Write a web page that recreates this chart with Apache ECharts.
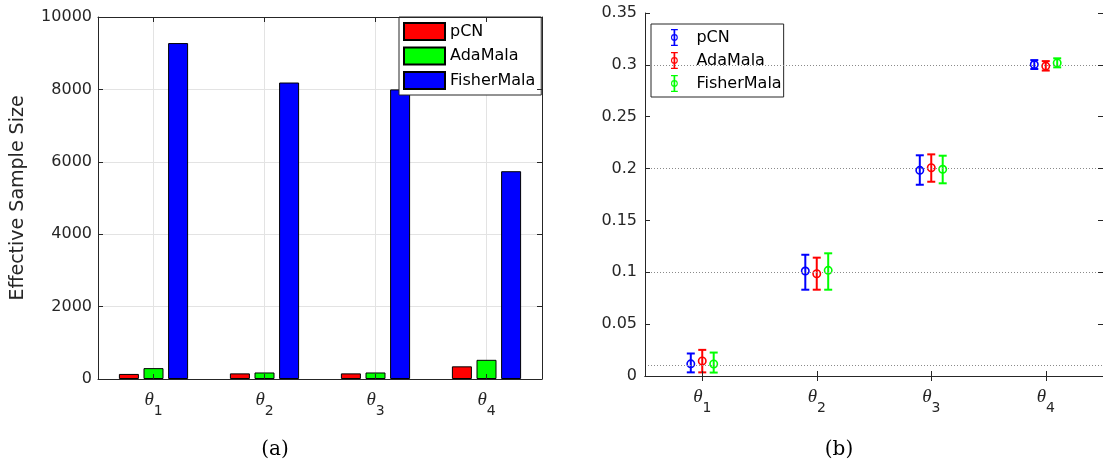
<!DOCTYPE html>
<html><head><meta charset="utf-8">
<script src="https://cdn.jsdelivr.net/npm/echarts@6/dist/echarts.min.js"></script>
<style>html,body{margin:0;padding:0;background:#fff}#c{width:1103px;height:464px}</style>
</head><body><div id="c"></div>
<script>
// ---------- data ----------
const methods = ['pCN', 'AdaMala', 'FisherMala'];
const thetaSubs = ['1', '2', '3', '4'];

// (a) effective sample size
const essPCN = [140, 155, 155, 350];
const essAda = [300, 180, 180, 530];
const essFisher = [9280, 8190, 8000, 5740];

// (b) posterior mean and interval
const meanPCN = [0.0117, 0.1012, 0.1983, 0.3003];
const lowPCN = [0.0035, 0.0832, 0.1844, 0.2960];
const highPCN = [0.0217, 0.1169, 0.2128, 0.3046];
const meanAda = [0.0145, 0.0986, 0.2008, 0.2988];
const lowAda = [0.0035, 0.0832, 0.1873, 0.2945];
const highAda = [0.0252, 0.1141, 0.2137, 0.3036];
const meanFisher = [0.0116, 0.1019, 0.1993, 0.3019];
const lowFisher = [0.0033, 0.0832, 0.1858, 0.2976];
const highFisher = [0.0226, 0.1183, 0.2124, 0.3063];
const trueValues = [0.01, 0.1, 0.2, 0.3];

const thetaPositions = [1, 2, 3, 4];
const ebOffsets = [-0.1, 0, 0.1];

// ---------- styles ----------
const barColors = ['#ff0000', '#00ff00', '#0000ff'];
const ebColors = ['#0000ff', '#ff0000', '#00ff00'];
const AX = '#262626';
const GRIDC = '#e3e3e3';
const SANS = 'DejaVu Sans';
const thetaRich = {
  t: { fontFamily: 'Liberation Serif', fontStyle: 'italic', fontSize: 19, color: AX },
  s: { fontFamily: SANS, fontSize: 14, color: AX, padding: [22, 0, 0, 0] }
};
const thetaFmt = v => '{t|θ}{s|' + v + '}';
const ebIcon = 'path://M2,0H18V3H2Z M2,37H18V40H2Z M8,0H12V40H8Z M2,20A8,8,0,1,1,18,20A8,8,0,1,1,2,20Z M4.5,20A5.5,5.5,0,1,0,15.5,20A5.5,5.5,0,1,0,4.5,20Z';

const essSeries = [essPCN, essAda, essFisher];
const ebMeans = [meanPCN, meanAda, meanFisher];
const ebLows = [lowPCN, lowAda, lowFisher];
const ebHighs = [highPCN, highAda, highFisher];

function renderEB(params, api) {
  const x = api.value(0), m = api.value(1), lo = api.value(2), hi = api.value(3);
  const pm = api.coord([x, m]), pl = api.coord([x, lo]), ph = api.coord([x, hi]);
  const color = api.visual('color');
  const w = 4;
  const ls = { stroke: color, lineWidth: 2, fill: 'none' };
  return {
    type: 'group', children: [
      { type: 'line', shape: { x1: pl[0], y1: pl[1], x2: ph[0], y2: ph[1] }, style: ls },
      { type: 'line', shape: { x1: ph[0] - w, y1: ph[1], x2: ph[0] + w, y2: ph[1] }, style: ls },
      { type: 'line', shape: { x1: pl[0] - w, y1: pl[1], x2: pl[0] + w, y2: pl[1] }, style: ls },
      { type: 'circle', shape: { cx: pm[0], cy: pm[1], r: 3.7 }, style: { stroke: color, lineWidth: 1.6, fill: 'none' } }
    ]
  };
}

const series = [];
methods.forEach((name, s) => {
  series.push({
    type: 'bar', name: name, xAxisIndex: 0, yAxisIndex: 0,
    data: essSeries[s], barWidth: 20, barGap: '23%',
    itemStyle: { color: barColors[s], borderColor: '#000', borderWidth: 1 },
    animation: false
  });
});
methods.forEach((name, s) => {
  const ser = {
    type: 'custom', name: 'b:' + name, xAxisIndex: 3, yAxisIndex: 2,
    renderItem: renderEB,
    itemStyle: { color: ebColors[s] },
    encode: { x: 0, y: [1, 2, 3] },
    data: thetaPositions.map((p, i) => [p + ebOffsets[s], ebMeans[s][i], ebLows[s][i], ebHighs[s][i]]),
    animation: false, z: 3
  };
  if (s === 0) {
    ser.markLine = {
      silent: true, symbol: ['none', 'none'], animation: false,
      label: { show: false },
      lineStyle: { type: [1, 2], color: '#8a8a8a', width: 1 },
      data: trueValues.map(v => ({ yAxis: v }))
    };
  }
  series.push(ser);
});

const tickIn = { show: true, inside: true, length: 5, lineStyle: { color: AX } };
const axLine = { show: true, lineStyle: { color: AX, width: 1 } };

const option = {
  backgroundColor: '#fff',
  animation: false,
  title: [
    { text: '(a)', left: 270, top: 435, textAlign: 'center',
      textStyle: { fontFamily: 'DejaVu Serif', fontSize: 20, fontWeight: 'normal', color: '#000' } },
    { text: '(b)', left: 834, top: 435, textAlign: 'center',
      textStyle: { fontFamily: 'DejaVu Serif', fontSize: 20, fontWeight: 'normal', color: '#000' } }
  ],
  grid: [
    { left: 98, top: 17, width: 444, height: 362 },
    { left: 645, top: 13, width: 461, height: 363 }
  ],
  legend: [
    { left: 399, top: 17, orient: 'vertical', itemWidth: 41, itemHeight: 17, itemGap: 5.5,
      padding: [5, 6, 5, 4], borderColor: AX, borderWidth: 1, backgroundColor: '#fff',
      icon: 'rect', selectedMode: false,
      textStyle: { fontFamily: SANS, fontSize: 16, color: '#000' },
      data: methods },
    { left: 651, top: 24, orient: 'vertical', itemWidth: 34, itemHeight: 17, itemGap: 6,
      padding: [5, 2, 5, 20], borderColor: AX, borderWidth: 1, backgroundColor: '#fff',
      icon: ebIcon, selectedMode: false,
      formatter: n => n.slice(2),
      textStyle: { fontFamily: SANS, fontSize: 16, color: '#000' },
      data: methods.map(n => 'b:' + n) }
  ],
  xAxis: [
    { // 0: categories of (a)
      type: 'category', gridIndex: 0, position: 'bottom', data: thetaSubs, z: 5,
      axisLine: axLine, axisTick: Object.assign({ alignWithLabel: true }, tickIn),
      axisLabel: { formatter: thetaFmt, rich: thetaRich, margin: 3 },
      splitLine: { show: false }
    },
    { // 1: vertical grid lines of (a)
      type: 'value', gridIndex: 0, min: 0.5, max: 4.5, interval: 1, z: 0,
      axisLine: { show: false },
      axisTick: { show: false, customValues: thetaPositions },
      axisLabel: { show: false, customValues: thetaPositions },
      splitLine: { show: true, lineStyle: { color: GRIDC, width: 1 } }
    },
    { // 2: top border of (a)
      type: 'category', gridIndex: 0, position: 'top', data: thetaSubs, z: 5,
      axisLine: axLine, axisTick: Object.assign({ alignWithLabel: true }, tickIn),
      axisLabel: { show: false }, splitLine: { show: false }
    },
    { // 3: x of (b)
      type: 'value', gridIndex: 1, position: 'bottom', min: 0.5, max: 4.5, interval: 1, z: 5,
      axisLine: axLine,
      axisTick: Object.assign({ customValues: thetaPositions }, tickIn),
      axisLabel: { customValues: thetaPositions, formatter: thetaFmt, rich: thetaRich, margin: 3 },
      splitLine: { show: false }
    },
    { // 4: top border of (b)
      type: 'value', gridIndex: 1, position: 'top', min: 0.5, max: 4.5, interval: 1, z: 5,
      axisLine: axLine,
      axisTick: Object.assign({ customValues: thetaPositions }, tickIn),
      axisLabel: { show: false, customValues: thetaPositions },
      splitLine: { show: false }
    }
  ],
  yAxis: [
    { // 0
      type: 'value', gridIndex: 0, min: 0, max: 10000, interval: 2000, position: 'left',
      axisLine: axLine, axisTick: tickIn,
      axisLabel: { fontFamily: SANS, fontSize: 16, color: AX, margin: 6, formatter: v => String(v) },
      splitLine: { show: true, lineStyle: { color: GRIDC, width: 1 } },
      name: 'Effective Sample Size', nameLocation: 'middle', nameGap: 70,
      nameTextStyle: { fontFamily: SANS, fontSize: 19, color: AX }
    },
    { // 1
      type: 'value', gridIndex: 0, min: 0, max: 10000, interval: 2000, position: 'right', z: 5,
      axisLine: axLine, axisTick: tickIn, axisLabel: { show: false }, splitLine: { show: false }
    },
    { // 2
      type: 'value', gridIndex: 1, min: 0, max: 0.35, interval: 0.05, position: 'left', z: 5,
      axisLine: axLine, axisTick: tickIn,
      axisLabel: { fontFamily: SANS, fontSize: 16, color: AX, margin: 8 },
      splitLine: { show: false }
    },
    { // 3
      type: 'value', gridIndex: 1, min: 0, max: 0.35, interval: 0.05, position: 'right', z: 5,
      axisLine: axLine, axisTick: tickIn, axisLabel: { show: false }, splitLine: { show: false }
    }
  ],
  series: series
};

const chart = echarts.init(document.getElementById('c'), null, { renderer: 'canvas' });
chart.setOption(option);
</script>
</body></html>
